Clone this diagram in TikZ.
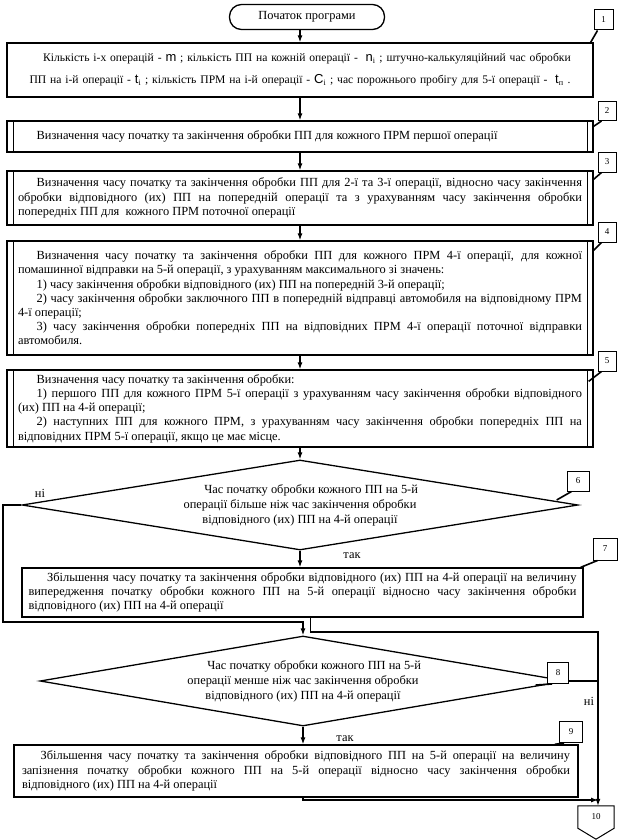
\documentclass[tikz,border=0pt]{standalone}
\usepackage{fontspec}
\setmainfont{Liberation Serif}
\newfontfamily\varfont{Liberation Sans}
\usetikzlibrary{arrows.meta,shapes.geometric}
\newcommand{\ind}{\hspace*{1.5em}}
\newcommand{\symv}[1]{{\varfont\fontsize{13}{14}\selectfont #1}}

\begin{document}
\begin{tikzpicture}[x=1pt,y=-1pt,>={Latex[length=7pt,width=5pt]},font=\fontsize{12.4}{14.2}\selectfont]
  \tikzstyle{box}=[draw,line width=1.3pt,inner sep=0pt,minimum width=586pt,text width=564pt,align=justify]
  \tikzstyle{prm}=[box,path picture={\draw[line width=0.8pt] ([xshift=6pt]path picture bounding box.north west) -- ([xshift=6pt]path picture bounding box.south west) ([xshift=-6pt]path picture bounding box.north east) -- ([xshift=-6pt]path picture bounding box.south east);}]
  \tikzstyle{dec}=[draw,diamond,aspect=6,line width=1.3pt,inner sep=0pt,align=center,font=\fontsize{12.4}{15}\selectfont]
  \tikzstyle{tag}=[draw,line width=1pt,fill=white,minimum width=19pt,minimum height=20pt,inner sep=0pt,font=\fontsize{9}{10}\selectfont]
  \tikzstyle{ptr}=[line width=1.6pt]
  \tikzstyle{conn}=[line width=1.2pt]
  \tikzstyle{lbl}=[inner sep=1pt]
  \useasboundingbox (0,0) rectangle (623,840);
  \node[draw,line width=1.3pt,rounded corners=12pt,minimum width=155pt,minimum height=25pt,inner sep=0pt] (start) at (307,17) {Початок програми};
  \node[box,text width=575pt,align=center,font=\fontsize{11.6}{22}\selectfont,minimum height=54pt] (b1) at (300,70) {\hspace*{1.2em}Кількість і-х операцій - \symv{m} ; кількість ПП на кожній операції -\ \ \symv{n}\textsubscript{i} ; штучно-калькуляційний час обробки\\ ПП на і-й операції - \symv{t}\textsubscript{i} ; кількість ПРМ на і-й операції - \symv{C}\textsubscript{i} ; час порожнього пробігу для 5-ї операції -\ \ \symv{t}\textsubscript{п} .};
  \node[prm,minimum height=31pt] (b2) at (300,136.5) {\ind Визначення часу початку та закінчення обробки ПП для кожного ПРМ першої операції};
  \node[prm,minimum height=54pt] (b3) at (300,198) {\ind Визначення часу початку та закінчення обробки ПП для 2-ї та 3-ї операції, відносно часу закінчення\linebreak обробки відповідного (их) ПП на попередній операції та з урахуванням часу закінчення обробки\linebreak попередніх ПП для\ \ кожного ПРМ поточної операції};
  \node[prm,minimum height=114pt] (b4) at (300,298) {\ind Визначення часу початку та закінчення обробки ПП для кожного ПРМ 4-ї операції, для кожної\linebreak помашинної відправки на 5-й операції, з урахуванням максимального зі значень:\\
    \ind 1) часу закінчення обробки відповідного (их) ПП на попередній 3-й операції;\\
    \ind 2) часу закінчення обробки заключного ПП в попередній відправці автомобиля на відповідному ПРМ\linebreak 4-ї операції;\\
    \ind 3) часу закінчення обробки попередніх ПП на відповідних ПРМ 4-ї операції поточної відправки\linebreak автомобиля.};
  \node[prm,minimum height=77pt] (b5) at (300,408.5) {\ind Визначення часу початку та закінчення обробки:\\
    \ind 1) першого ПП для кожного ПРМ 5-ї операції з урахуванням часу закінчення обробки відповідного\linebreak (их) ПП на 4-й операції;\\
    \ind 2) наступних ПП для кожного ПРМ, з урахуванням часу закінчення обробки попередніх ПП на\linebreak відповідних ПРМ 5-ї операції, якщо це має місце.};
  \node[dec,minimum width=556pt,minimum height=90pt] (d6) at (300,505) {\hspace*{1.8em}Час початку обробки кожного ПП на 5-й\\операції більше ніж час закінчення обробки\\відповідного (их) ПП на 4-й операції};
  \node[box,minimum width=561pt,text width=548pt,minimum height=49pt] (b7) at (302.5,592.5) {\ind Збільшення часу початку та закінчення обробки відповідного (их) ПП на 4-й операції на величину\linebreak випередження початку обробки кожного ПП на 5-й операції відносно часу закінчення обробки\linebreak відповідного (их) ПП на 4-й операції};
  \node[dec,minimum width=526pt,minimum height=90pt] (d8) at (303,681) {\hspace*{1.8em}Час початку обробки кожного ПП на 5-й\\операції менше ніж час закінчення обробки\\відповідного (их) ПП на 4-й операції};
  \node[box,minimum width=564pt,text width=548pt,minimum height=52pt] (b9) at (296,771) {\ind Збільшення часу початку та закінчення обробки відповідного ПП на 5-й операції на величину\linebreak запізнення початку обробки кожного ПП на 5-й операції відносно часу закінчення обробки\linebreak відповідного (их) ПП на 4-й операції};
  \node[minimum width=36pt,minimum height=22pt,inner sep=0pt,font=\fontsize{9}{10}\selectfont] (m10) at (596,817) {10};
  \draw[line width=1pt] (m10.north west) -- (m10.north east) -- (m10.south east) -- ([yshift=-11pt]m10.south) -- (m10.south west) -- cycle;
  \node[lbl] (no1) at (40,493) {ні};
  \node[lbl] (yes1) at (352,556) {так};
  \node[lbl] (no2) at (589,701) {ні};
  \node[lbl] (yes2) at (345,739) {так};
  \coordinate (jl) at (3,622);
  \coordinate (jm) at (303,622);
  \coordinate (jr) at (598,632);
  \coordinate (jb) at (598,800);
  \draw[conn,->] (start.south -| b1) -- (b1);
  \draw[conn,->] (b1) -- (b2);
  \draw[conn,->] (b2) -- (b3);
  \draw[conn,->] (b3) -- (b4);
  \draw[conn,->] (b4) -- (b5);
  \draw[conn,->] (b5) -- (d6);
  \draw[conn,->] (d6.south) -- (d6.south |- b7.north);
  \draw[conn,->] (d6.west) -| (jl) -- (jm) -- (d8);
  \draw[conn,->] ([xshift=8pt]b7.south) |- (jr) -- (jr |- m10.north);
  \draw[conn] (d8.east) -- (d8.east -| jr);
  \draw[conn,->] (d8.south) -- (d8.south |- b9.north);
  \draw[conn,->] (b9.south -| d8) |- (jb);
  \node[tag] (m1) at (603.5,20) {1};
  \node[tag,minimum width=18pt,minimum height=19pt] (m2) at (607,111) {2};
  \node[tag,minimum width=18pt] (m3) at (607,162) {3};
  \node[tag,minimum width=18pt] (m4) at (607,232) {4};
  \node[tag,minimum width=18pt] (m5) at (607,361) {5};
  \node[tag,minimum width=22pt] (m6) at (578,481) {6};
  \node[tag,minimum width=24pt,minimum height=22pt] (m7) at (605,549) {7};
  \node[tag,minimum width=21pt,minimum height=21pt] (m8) at (558,673) {8};
  \node[tag,minimum width=23pt,minimum height=21pt] (m9) at (571,732) {9};
  \draw[ptr] ([xshift=4pt]m1.south west) -- ([xshift=-3pt]b1.north east);
  \draw[ptr] ([xshift=4pt]m2.south west) -- ([yshift=-6pt]b2.north east);
  \draw[ptr] ([xshift=4pt]m3.south west) -- ([yshift=-9pt]b3.north east);
  \draw[ptr] ([xshift=4pt]m4.south west) -- ([yshift=-10pt]b4.north east);
  \draw[ptr] ([xshift=4pt]m5.south west) -- ([xshift=-5pt,yshift=-12pt]b5.north east);
  \draw[ptr] ([xshift=5pt]m6.south west) -- ([xshift=-22pt,yshift=5pt]d6.east);
  \draw[ptr] ([xshift=5pt]m7.south west) -- ([xshift=-3pt]b7.north east);
  \draw[ptr] ([xshift=5pt]m8.south west) -- ([xshift=-31pt,yshift=-4pt]d8.east);
  \draw[ptr] ([xshift=5pt]m9.south west) -- ([xshift=-24pt]b9.north east);
\end{tikzpicture}
\end{document}
